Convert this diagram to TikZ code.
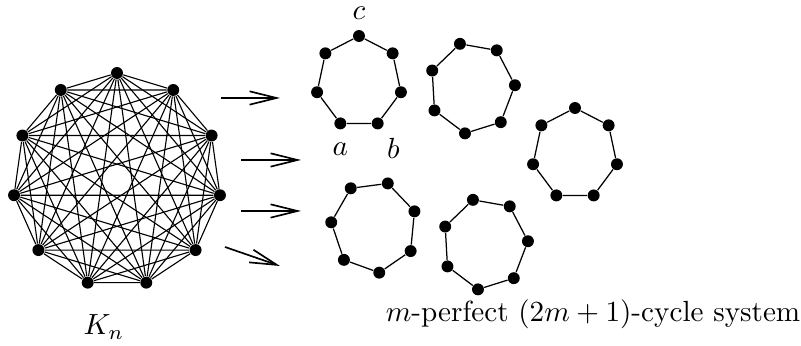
\documentclass[tikz,border=0pt]{standalone}
\usepackage{amsmath}
\usepackage{graphicx}
\usetikzlibrary{arrows.meta,positioning}
\tikzset{
  vtx/.style={circle,fill=black,inner sep=0pt,minimum size=4.3pt},
  bigarrow/.style={line width=0.6pt,-{Straight Barb[length=9.7pt,width=4.8pt]}}
}
\newcommand{\bigtxt}[1]{\scalebox{1.05}{#1}}
\begin{document}
\begin{tikzpicture}[x=0.36pt,y=-0.36pt]
  \useasboundingbox (0,0) rectangle (801,346);
  % Complete graph K_n
  \begin{scope}[shift={(117,180)}]
    \foreach \i in {0,...,10}
      \node[vtx] (k\i) at (-90-\i*32.727:104 and 107) {};
  \end{scope}
  \foreach \i in {0,...,9} {
    \pgfmathtruncatemacro\nxt{\i+1}
    \foreach \j in {\nxt,...,10}
      \draw (k\i) -- (k\j);
  }
  \node (kn) at (104,327) {\bigtxt{$K_n$}};

  % Arrows
  \foreach \n/\xa/\ya/\xb/\yb in {1/221/98/280/98, 2/241/160/301/160, 3/241/211/301/211, 4/225/247/280/266} {
    \coordinate (s\n) at (\xa,\ya);
    \coordinate (e\n) at (\xb,\yb);
    \draw[bigarrow] (s\n) -- (e\n);
  }

  % Cycles
  \foreach \c/\cx/\cy/\rot in {1/359/82/0, 2/472/88/16.3, 3/575/154/0, 4/374/227/-18.7, 5/485/244/16.3} {
    \begin{scope}[shift={(\cx,\cy)}]
      \foreach \i in {0,...,6}
        \node[vtx] (c\c-\i) at (-90-\rot-\i*51.429:43 and 46) {};
    \end{scope}
    \draw[line width=0.45pt] (c\c-0) -- (c\c-1) -- (c\c-2) -- (c\c-3) -- (c\c-4) -- (c\c-5) -- (c\c-6) -- (c\c-0);
  }
  \node (lc) [above=0pt of c1-0] {\bigtxt{$c$}};
  \node (la) [below=1pt of c1-3] {\bigtxt{$a$}};
  \node (lb) [below right=0pt and -1.8pt of c1-4] {\bigtxt{$b$}};

  \node (cs) at (593,314) {\bigtxt{$m$-perfect $(2m+1)$-cycle system}};
\end{tikzpicture}
\end{document}
